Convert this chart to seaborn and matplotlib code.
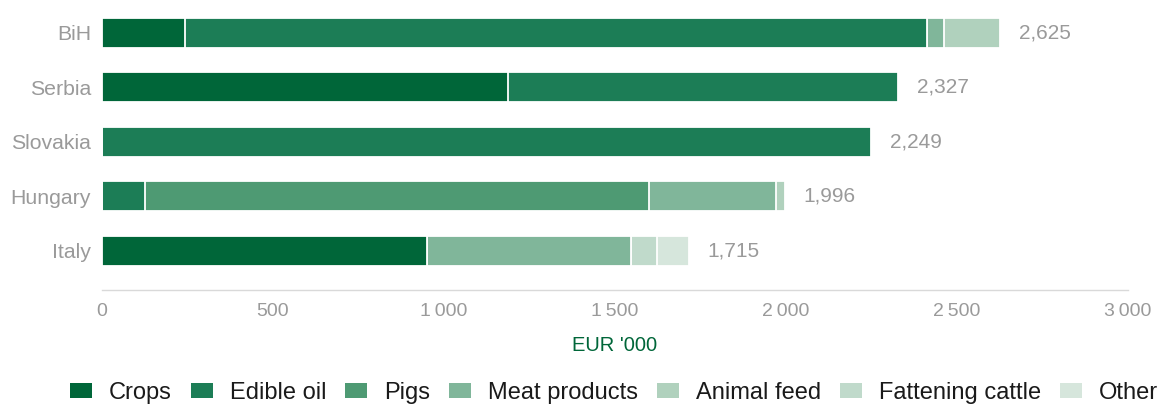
import matplotlib
matplotlib.use("Agg")
import matplotlib.pyplot as plt
from matplotlib.patches import Patch
import seaborn as sns
import pandas as pd
import numpy as np

countries = ["BiH", "Serbia", "Slovakia", "Hungary", "Italy"]
series = ["Crops", "Edible oil", "Pigs", "Meat products", "Animal feed", "Fattening cattle", "Other"]
crops = [243, 1187, 0, 0, 950]
edible_oil = [2169, 1140, 2249, 125, 0]
pigs = [0, 0, 0, 1475, 0]
meat_products = [50, 0, 0, 372, 596]
animal_feed = [163, 0, 0, 24, 0]
fattening_cattle = [0, 0, 0, 0, 77]
other = [0, 0, 0, 0, 92]
xticks = [0, 500, 1000, 1500, 2000, 2500, 3000]
xtick_labels = ["0", "500", "1\u2009000", "1\u2009500", "2\u2009000", "2\u2009500", "3\u2009000"]
colors = ["#006639", "#1c7d56", "#4e9a73", "#80b69a", "#b0d1bd", "#c0dacb", "#d6e6dc"]

sns.set_theme(style="white")
plt.rcParams["font.family"] = ["Liberation Sans", "DejaVu Sans"]

values = [crops, edible_oil, pigs, meat_products, animal_feed, fattening_cattle, other]
df = pd.DataFrame({s: v for s, v in zip(series, values)}, index=countries)
cum = df.cumsum(axis=1)

fig = plt.figure(figsize=(11.61, 4.05), dpi=100)
ax = fig.add_axes([102 / 1161, (405 - 290) / 405, 1026 / 1161, 290 / 405])

for s, c in reversed(list(zip(series, colors))):
    d = pd.DataFrame({"country": countries, "value": cum[s].values})
    sns.barplot(data=d, x="value", y="country", color=c, orient="h", ax=ax,
                width=0.55, edgecolor="white", linewidth=1.3, saturation=1)

totals = df.sum(axis=1)
for i, t in enumerate(totals):
    ax.text(t + 55, i, f"{int(t):,}", va="center", ha="left", fontsize=15, color="#9a9a9a")

ax.set_xlim(0, 3000)
ax.set_ylim(4.716, -0.6)
ax.set_xticks(xticks)
ax.set_xticklabels(xtick_labels)
ax.tick_params(axis="x", colors="#d9d9d9", labelcolor="#9a9a9a", labelsize=14, length=4,
               direction="in", pad=9, width=0.8)
ax.tick_params(axis="y", labelcolor="#9a9a9a", labelsize=15.3, length=0, pad=8)
for sp in ["top", "right", "left"]:
    ax.spines[sp].set_visible(False)
ax.spines["bottom"].set_color("#d9d9d9")
ax.spines["bottom"].set_linewidth(1)
ax.set_ylabel("")
ax.set_xlabel("EUR '000", color="#006639", fontsize=14.5, labelpad=12)

handles = [Patch(facecolor=c, edgecolor="none", label=s) for s, c in zip(series, colors)]
fig.legend(handles=handles, loc="center", bbox_to_anchor=(0.529, 0.03), ncol=7, frameon=False,
           fontsize=17, handlelength=0.93, handleheight=0.6, handletextpad=0.72, columnspacing=0.8,
           labelcolor="#1a1a1a", borderpad=0.2)

fig.savefig("out.png", dpi=100)
